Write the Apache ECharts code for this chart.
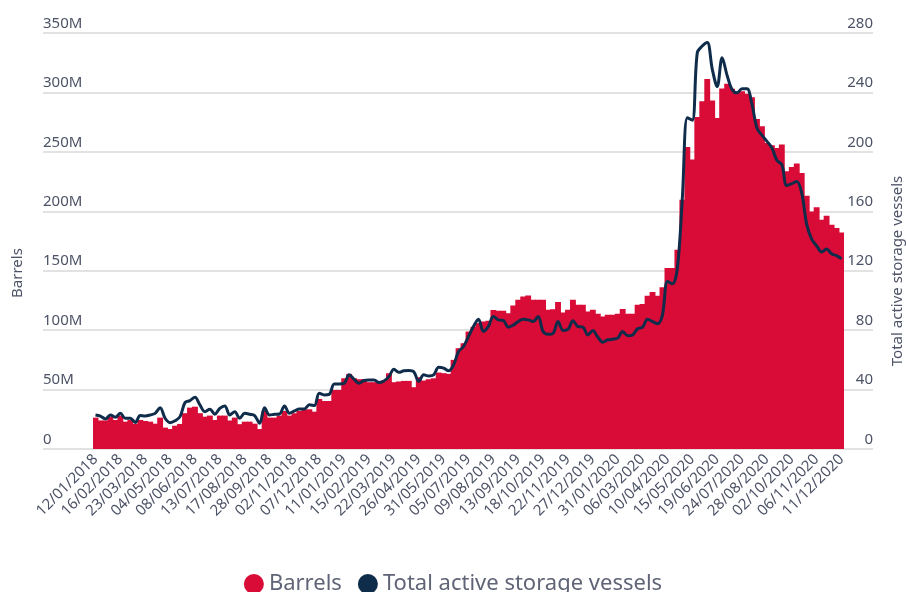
<!DOCTYPE html>
<html>
<head>
<meta charset="utf-8">
<script src="https://cdn.jsdelivr.net/npm/echarts@6/dist/echarts.min.js"></script>
<style>
  html, body { margin: 0; padding: 0; background: #fff; }
  #chart { width: 906px; height: 592px; }
</style>
</head>
<body>
<div id="chart"></div>
<script>
// weekly dates (dd/mm/yyyy)
const weeks = [
  '12/01/2018','19/01/2018','26/01/2018','02/02/2018','09/02/2018','16/02/2018','23/02/2018','02/03/2018','09/03/2018','16/03/2018',
  '23/03/2018','06/04/2018','13/04/2018','20/04/2018','27/04/2018','04/05/2018','11/05/2018','18/05/2018','25/05/2018','01/06/2018',
  '08/06/2018','15/06/2018','22/06/2018','29/06/2018','06/07/2018','13/07/2018','20/07/2018','27/07/2018','03/08/2018','10/08/2018',
  '17/08/2018','24/08/2018','07/09/2018','14/09/2018','21/09/2018','28/09/2018','05/10/2018','12/10/2018','19/10/2018','26/10/2018',
  '02/11/2018','09/11/2018','16/11/2018','23/11/2018','30/11/2018','07/12/2018','14/12/2018','21/12/2018','28/12/2018','04/01/2019',
  '11/01/2019','18/01/2019','25/01/2019','01/02/2019','08/02/2019','15/02/2019','22/02/2019','01/03/2019','08/03/2019','15/03/2019',
  '22/03/2019','29/03/2019','05/04/2019','12/04/2019','19/04/2019','26/04/2019','03/05/2019','10/05/2019','17/05/2019','24/05/2019',
  '31/05/2019','07/06/2019','14/06/2019','21/06/2019','28/06/2019','05/07/2019','12/07/2019','19/07/2019','26/07/2019','02/08/2019',
  '09/08/2019','16/08/2019','23/08/2019','30/08/2019','06/09/2019','13/09/2019','20/09/2019','27/09/2019','04/10/2019','11/10/2019',
  '18/10/2019','25/10/2019','01/11/2019','08/11/2019','15/11/2019','22/11/2019','29/11/2019','06/12/2019','13/12/2019','20/12/2019',
  '27/12/2019','03/01/2020','10/01/2020','17/01/2020','24/01/2020','31/01/2020','07/02/2020','14/02/2020','21/02/2020','28/02/2020',
  '06/03/2020','13/03/2020','20/03/2020','27/03/2020','03/04/2020','10/04/2020','17/04/2020','24/04/2020','01/05/2020','08/05/2020',
  '15/05/2020','22/05/2020','29/05/2020','05/06/2020','12/06/2020','19/06/2020','26/06/2020','03/07/2020','10/07/2020','17/07/2020',
  '24/07/2020','31/07/2020','07/08/2020','14/08/2020','21/08/2020','28/08/2020','04/09/2020','11/09/2020','18/09/2020','25/09/2020',
  '02/10/2020','09/10/2020','16/10/2020','23/10/2020','30/10/2020','06/11/2020','13/11/2020','20/11/2020','27/11/2020','04/12/2020',
  '11/12/2020'
];

// barrels in storage, millions
const barrelsM = [
  26.4, 24.0, 24.0, 27.2, 24.4, 28.1, 23.0, 24.4, 21.1, 24.4,
  23.6, 23.0, 21.3, 26.4, 18.0, 16.8, 19.6, 21.1, 30.1, 34.8,
  35.6, 30.1, 27.2, 28.1, 24.4, 28.1, 28.1, 24.0, 26.4, 20.9,
  23.0, 23.0, 21.3, 16.8, 32.0, 26.4, 26.4, 28.1, 32.0, 28.1,
  30.1, 32.0, 32.9, 33.4, 31.4, 42.1, 40.4, 40.4, 49.7, 49.7,
  59.5, 63.2, 59.5, 58.7, 58.7, 56.2, 56.2, 55.9, 57.6, 63.7,
  56.2, 56.8, 57.3, 57.3, 52.0, 60.4, 57.6, 58.7, 59.5, 64.3,
  63.8, 63.2, 75.0, 84.8, 89.0, 98.8, 102.8, 105.9, 107.3, 108.0,
  117.0, 116.3, 116.3, 114.3, 120.7, 125.5, 128.3, 129.1, 125.5, 125.5,
  125.5, 117.1, 117.6, 123.6, 114.8, 117.1, 125.5, 121.3, 121.3, 115.7,
  117.1, 113.7, 111.5, 112.9, 112.9, 113.7, 117.8, 113.7, 113.7, 121.3,
  122.1, 128.9, 132.1, 128.9, 136.0, 152.2, 152.2, 167.6, 209.8, 254.1,
  243.5, 279.4, 292.6, 311.4, 293.2, 278.5, 303.3, 307.2, 303.0, 299.6,
  301.0, 298.8, 296.0, 277.7, 271.5, 257.5, 255.5, 253.3, 256.1, 233.6,
  237.3, 240.1, 232.2, 213.1, 199.9, 203.3, 192.9, 196.3, 188.7, 185.9,
  182.2
];

// total active storage vessels
const vessels = [
  22.9, 22.2, 20.2, 22.9, 21.4, 24.0, 20.7, 20.7, 17.9, 22.5,
  22.2, 22.9, 24.0, 27.8, 20.7, 17.7, 19.0, 21.8, 31.2, 32.6,
  34.8, 29.7, 25.1, 26.7, 23.4, 27.4, 29.0, 22.9, 25.1, 20.7,
  24.0, 23.4, 22.5, 17.3, 27.8, 22.9, 23.4, 23.6, 29.0, 24.0,
  25.6, 26.9, 26.9, 29.7, 29.2, 37.5, 36.4, 36.8, 43.8, 43.8,
  44.2, 49.9, 46.9, 44.2, 46.1, 46.5, 46.5, 44.7, 45.8, 48.7,
  53.7, 51.6, 52.6, 52.8, 52.0, 45.5, 49.9, 49.2, 49.9, 55.0,
  54.4, 52.6, 56.6, 65.6, 69.0, 75.7, 82.5, 87.4, 79.1, 82.5,
  89.2, 86.9, 86.5, 82.0, 83.4, 85.8, 87.4, 86.9, 85.8, 89.2,
  79.1, 77.3, 77.9, 85.8, 79.8, 80.5, 86.3, 82.4, 82.0, 76.8,
  79.7, 75.3, 71.9, 73.5, 73.9, 74.6, 79.1, 76.2, 76.8, 80.9,
  82.0, 87.4, 85.8, 84.3, 90.3, 112.8, 111.2, 121.8, 169.0, 222.9,
  221.3, 266.7, 271.2, 273.6, 255.9, 244.0, 263.3, 251.4, 242.0, 239.7,
  242.4, 242.4, 231.9, 216.1, 211.2, 207.1, 202.7, 194.3, 191.4, 177.3,
  178.6, 180.0, 172.3, 151.2, 141.3, 136.8, 132.6, 134.6, 131.4, 130.1,
  128.1
];

const textColor = '#4d5366';
const font = 'Noto Sans';
const red = '#d90b37';
const navy = '#0f2c4b';

const chart = echarts.init(document.getElementById('chart'));

chart.setOption({
  animation: false,
  textStyle: { fontFamily: font },
  grid: [
    // wide frame for the split lines and tick labels
    { left: 43, right: 33, top: 33, bottom: 143 },
    // plot area for the data
    { left: 93, right: 62, top: 33, bottom: 143 }
  ],
  legend: {
    data: ['Barrels', 'Total active storage vessels'],
    left: 'center',
    top: 568,
    icon: 'circle',
    itemWidth: 20,
    itemHeight: 20,
    itemGap: 16,
    textStyle: { fontSize: 22, lineHeight: 22, color: '#5f6476', fontFamily: font }
  },
  xAxis: [
    { gridIndex: 0, type: 'value', min: 0, max: 1, show: false },
    {
      gridIndex: 1,
      type: 'category',
      data: weeks,
      axisLine: { show: false },
      axisTick: { show: false },
      axisLabel: {
        interval: 4,
        rotate: 45,
        fontSize: 15,
        color: textColor,
        margin: 8
      }
    }
  ],
  yAxis: [
    {
      gridIndex: 0,
      type: 'value',
      position: 'left',
      min: 0, max: 350, interval: 50,
      axisLine: { show: false },
      axisTick: { show: false },
      axisLabel: {
        inside: true,
        margin: 0,
        verticalAlign: 'bottom',
        padding: [0, 0, 2, 0],
        fontSize: 15,
        color: textColor,
        formatter: v => v === 0 ? '0' : v + 'M'
      },
      splitLine: { lineStyle: { color: '#d9d9d9', width: 1.5 } }
    },
    {
      gridIndex: 0,
      type: 'value',
      position: 'right',
      min: 0, max: 280, interval: 40,
      axisLine: { show: false },
      axisTick: { show: false },
      axisLabel: {
        inside: true,
        margin: 0,
        verticalAlign: 'bottom',
        padding: [0, 0, 2, 0],
        fontSize: 15,
        color: textColor
      },
      splitLine: { show: false }
    },
    { gridIndex: 1, type: 'value', min: 0, max: 350, show: false },
    { gridIndex: 1, type: 'value', min: 0, max: 280, show: false }
  ],
  graphic: [
    {
      type: 'text',
      x: 18, y: 273,
      rotation: Math.PI / 2,
      style: {
        text: 'Barrels',
        fill: textColor,
        fontSize: 15,
        fontFamily: font,
        align: 'center',
        verticalAlign: 'middle'
      }
    },
    {
      type: 'text',
      x: 898, y: 271,
      rotation: Math.PI / 2,
      style: {
        text: 'Total active storage vessels',
        fill: textColor,
        fontSize: 15,
        fontFamily: font,
        align: 'center',
        verticalAlign: 'middle'
      }
    }
  ],
  series: [
    {
      name: 'Barrels',
      type: 'bar',
      xAxisIndex: 1,
      yAxisIndex: 2,
      data: barrelsM,
      // slightly wider than the category so neighbouring bars overlap, no hairline gaps
      barWidth: '118%',
      itemStyle: { color: red }
    },
    {
      name: 'Total active storage vessels',
      type: 'line',
      xAxisIndex: 1,
      yAxisIndex: 3,
      data: vessels,
      smooth: 0.35,
      showSymbol: false,
      itemStyle: { color: navy },
      lineStyle: { color: navy, width: 3 }
    }
  ]
});
</script>
</body>
</html>
